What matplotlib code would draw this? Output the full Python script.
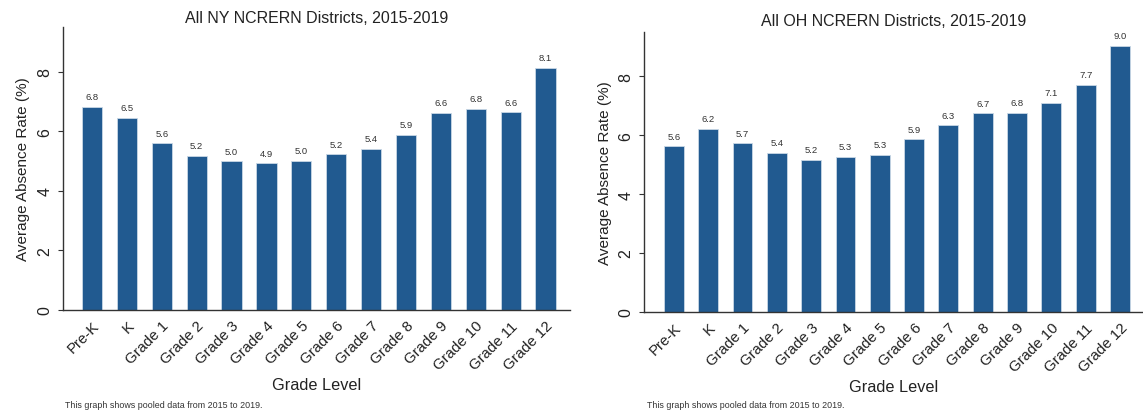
import matplotlib
matplotlib.use("Agg")
import matplotlib.pyplot as plt
import numpy as np

plt.rcParams['font.family'] = ['Liberation Sans', 'DejaVu Sans']

grades = ["Pre-K", "K", "Grade 1", "Grade 2", "Grade 3", "Grade 4", "Grade 5",
          "Grade 6", "Grade 7", "Grade 8", "Grade 9", "Grade 10", "Grade 11", "Grade 12"]
ny_values = [6.82, 6.46, 5.59, 5.18, 4.99, 4.93, 5.01, 5.23, 5.42, 5.89, 6.62, 6.76, 6.63, 8.14]
oh_values = [5.63, 6.22, 5.73, 5.41, 5.17, 5.26, 5.33, 5.86, 6.33, 6.74, 6.76, 7.09, 7.70, 9.03]
ny_title = "All NY NCRERN Districts, 2015-2019"
oh_title = "All OH NCRERN Districts, 2015-2019"
note = "This graph shows pooled data from 2015 to 2019."
yticks = [0, 2, 4, 6, 8]

bar_color = "#215a90"
edge_color = "#c9d8e6"
axis_color = "#333333"

fig = plt.figure(figsize=(11.43, 4.14), dpi=100)

def panel(rect, values, title, xlim, title_pad, note_x):
    ax = fig.add_axes(rect)
    x = np.arange(len(grades))
    ax.bar(x, values, width=0.58, color=bar_color, edgecolor=edge_color, linewidth=0.6, zorder=2)
    for xi, v in zip(x, values):
        ax.annotate(f"{v:.1f}", (xi, v), xytext=(0, 4), textcoords="offset points",
                    ha="center", va="bottom", fontsize=6.8, color="#333333")
    ax.set_xlim(*xlim)
    ax.set_ylim(0, 9.5)
    ax.set_yticks(yticks)
    ax.set_yticklabels([str(t) for t in yticks], rotation=90, va="center", fontsize=11.5, color="#222222")
    ax.set_xticks(x)
    ax.set_xticklabels(grades, rotation=45, ha="right", rotation_mode="anchor", fontsize=10.8, color="#222222")
    ax.tick_params(axis="x", length=0, pad=6)
    ax.tick_params(axis="y", length=3.6, width=0.8, color=axis_color, pad=4)
    for s in ["top", "right"]:
        ax.spines[s].set_visible(False)
    for s in ["left", "bottom"]:
        ax.spines[s].set_color(axis_color)
        ax.spines[s].set_linewidth(1.0)
    ax.set_ylabel("Average Absence Rate (%)", fontsize=11, color="#222222", labelpad=5)
    ax.set_xlabel("Grade Level", fontsize=11.7, color="#222222", labelpad=3)
    ax.set_title(title, fontsize=11.5, color="#222222", pad=title_pad)
    fig.text(note_x, 1 - 406 / 414, note, fontsize=6.4, color="#333333", va="center", ha="left")
    return ax

ax1 = panel([63 / 1143, 1 - 311 / 414, (570 - 63) / 1143, (311 - 28) / 414],
            ny_values, ny_title, (-0.83, 13.7), 3.6, 65 / 1143)
ax2 = panel([644 / 1143, 1 - 313 / 414, (1143 - 644) / 1143, (313 - 33) / 414],
            oh_values, oh_title, (-0.87, 13.67), 4.7, 647 / 1143)

fig.savefig("out.png", dpi=100)
